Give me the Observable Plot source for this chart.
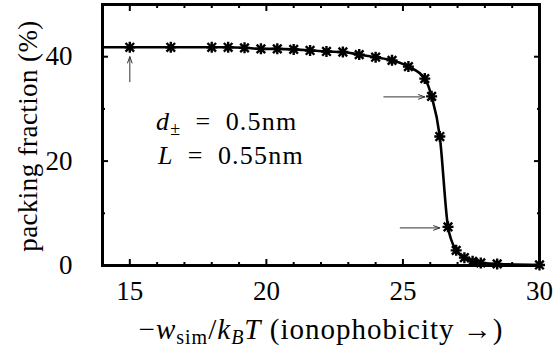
<!DOCTYPE html>
<html><head><meta charset="utf-8">
<script src="https://cdn.jsdelivr.net/npm/d3@7"></script>
<script src="https://cdn.jsdelivr.net/npm/@observablehq/plot@0.6"></script>
<style>body{margin:0;background:#fff}</style>
</head><body><div id="chart"></div>
<script>
// data
const ionophobicity = [15, 16.5, 18, 18.6, 19.2, 19.8, 20.4, 21.0, 21.6, 22.2, 22.8, 23.4, 24.0, 24.6, 25.2, 25.8, 26.05, 26.35, 26.65, 26.95, 27.25, 27.55, 27.85, 28.45, 30];
const packingFraction = [41.8, 41.8, 41.8, 41.8, 41.7, 41.5, 41.5, 41.4, 41.2, 41.0, 40.9, 40.4, 39.9, 39.3, 38.1, 35.8, 32.4, 24.7, 7.4, 2.9, 1.5, 0.8, 0.5, 0.3, 0.1];
const curveStartX = 14;
const curveStartY = 41.8;
const xMajorTicks = [15, 20, 25, 30];
const xMinorTicks = [14, 16, 17, 18, 19, 21, 22, 23, 24, 26, 27, 28, 29];
const yMajorTicks = [0, 20, 40];
const yMinorTicks = [10, 30];
const arrowX1 = [15, 24.3, 24.9];
const arrowY1 = [35.2, 32.3, 7.2];
const arrowX2 = [15, 25.8, 26.35];
const arrowY2 = [40.0, 32.3, 7.2];

const points = ionophobicity.map((x, i) => ({x, y: packingFraction[i]}));
const curve = [{x: curveStartX, y: curveStartY}, ...points];
const arrows = arrowX1.map((x1, i) => ({x1, y1: arrowY1[i], x2: arrowX2[i], y2: arrowY2[i]}));

const star8 = {
  draw(ctx, size) {
    const r = Math.sqrt(size / Math.PI);
    const d = r * 0.78;
    ctx.moveTo(-r, 0); ctx.lineTo(r, 0);
    ctx.moveTo(0, -r); ctx.lineTo(0, r);
    ctx.moveTo(-d, -d); ctx.lineTo(d, d);
    ctx.moveTo(-d, d); ctx.lineTo(d, -d);
  }
};

const FONT = "Liberation Serif";
const blank = () => "";
const tk = {strokeWidth: 2, label: null, tickFormat: blank};

const plot = Plot.plot({
  width: 553, height: 353,
  marginLeft: 102, marginRight: 14, marginTop: 4, marginBottom: 88,
  x: {domain: [14, 30]},
  y: {domain: [0, 50]},
  style: {fontFamily: FONT, fontSize: "27px", background: "white", color: "black"},
  marks: [
    Plot.axisX(xMajorTicks, {...tk, anchor: "bottom", tickSize: -6}),
    Plot.axisX(xMinorTicks, {...tk, anchor: "bottom", tickSize: -3}),
    Plot.axisX(xMajorTicks, {...tk, anchor: "top", tickSize: -6}),
    Plot.axisX(xMinorTicks, {...tk, anchor: "top", tickSize: -3}),
    Plot.axisY(yMajorTicks, {...tk, anchor: "left", tickSize: -6}),
    Plot.axisY(yMinorTicks, {...tk, anchor: "left", tickSize: -3}),
    Plot.axisY(yMajorTicks, {...tk, anchor: "right", tickSize: -6}),
    Plot.axisY(yMinorTicks, {...tk, anchor: "right", tickSize: -3}),
    Plot.axisX(xMajorTicks, {anchor: "bottom", tickSize: 0, tickPadding: 15, label: null, fontSize: 27}),
    Plot.axisY(yMajorTicks, {anchor: "left", tickSize: 0, tickPadding: 17, dx: -13, label: null, fontSize: 27}),
    Plot.line(curve, {x: "x", y: "y", curve: "monotone-x", stroke: "black", strokeWidth: 2.6}),
    Plot.dot(points, {x: "x", y: "y", symbol: star8, r: 5.5, stroke: "black", fill: "none", strokeWidth: 2.4}),
    Plot.arrow(arrows, {x1: "x1", y1: "y1", x2: "x2", y2: "y2", stroke: "#333", strokeWidth: 1, headLength: 10, headAngle: 40}),
    Plot.frame({stroke: "black", strokeWidth: 3})
  ]
});
document.getElementById("chart").appendChild(plot);

const svg = d3.select(plot);
const sx = plot.scale("x"), sy = plot.scale("y");
function txt(x, y, size, anchor) {
  return svg.append("text").attr("x", x).attr("y", y)
    .attr("font-family", FONT).attr("font-size", size)
    .attr("text-anchor", anchor).attr("fill", "black");
}

// annotations
const t1 = txt(sx.apply(15.98), sy.apply(25.9), 26, "start").attr("letter-spacing", 1.2);
t1.append("tspan").attr("font-style", "italic").text("d");
t1.append("tspan").attr("font-size", 18).attr("dy", 5).text("±");
t1.append("tspan").attr("dy", -5).text("\u2002=\u20020.5nm");

const t2 = txt(sx.apply(16.05), sy.apply(19.4), 26, "start").attr("letter-spacing", 1.2);
t2.append("tspan").attr("font-style", "italic").text("L");
t2.append("tspan").text("\u2002=\u20020.55nm");

// x axis label
const xl = txt(321, 339, 29, "middle").attr("letter-spacing", 1.0);
xl.append("tspan").text("\u2212");
xl.append("tspan").attr("font-style", "italic").text("w");
xl.append("tspan").attr("font-size", 20).attr("dy", 5).text("sim");
xl.append("tspan").attr("dy", -5).text("/");
xl.append("tspan").attr("font-style", "italic").text("k");
xl.append("tspan").attr("font-style", "italic").attr("font-size", 20).attr("dy", 5).text("B");
xl.append("tspan").attr("font-style", "italic").attr("dy", -5).text("T");
xl.append("tspan").text(" (ionophobicity \u2192)");

// y axis label
txt(0, 0, 27, "middle").attr("transform", "translate(37,136) rotate(-90)")
  .attr("letter-spacing", 0.4).text("packing fraction (%)");
</script>
</body></html>
